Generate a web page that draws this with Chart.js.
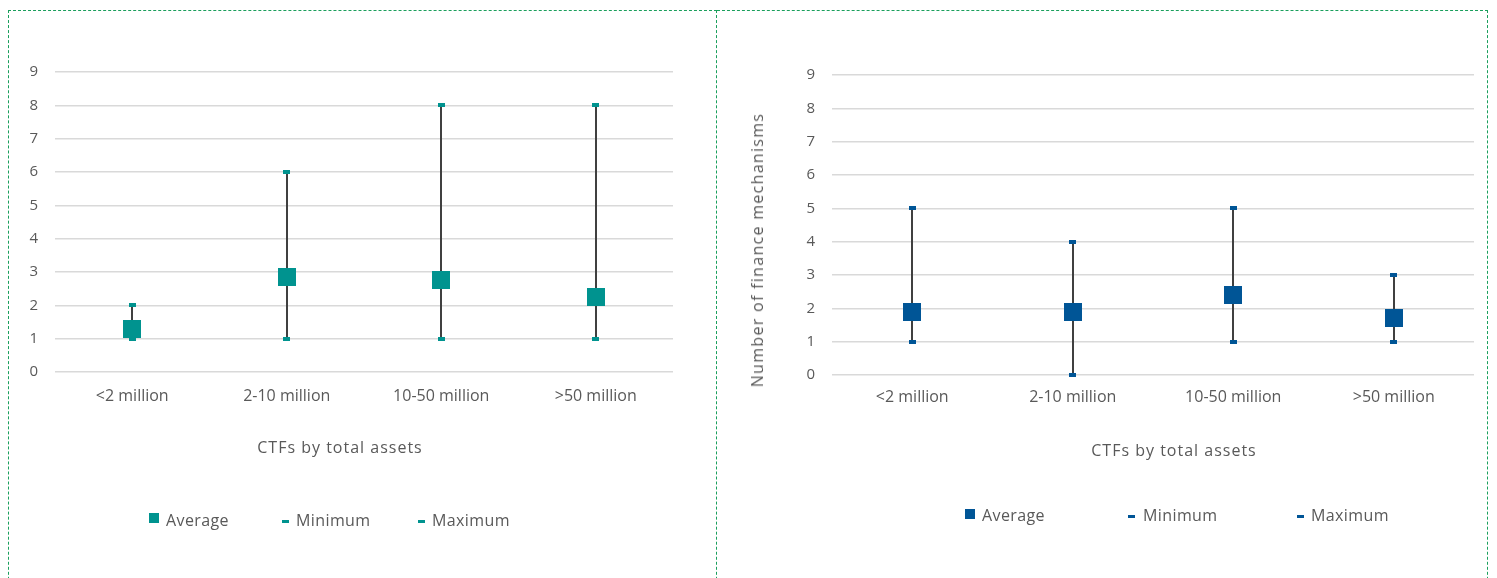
<!DOCTYPE html>
<html>
<head>
<meta charset="utf-8">
<script src="https://cdn.jsdelivr.net/npm/chart.js@4.4.1/dist/chart.umd.min.js"></script>
<style>
  html, body { margin: 0; padding: 0; background: #fff; overflow: hidden; }
  #wrap { position: relative; width: 1497px; height: 578px; font-family: 'Open Sans', sans-serif; color: #595959; }
  .panel { position: absolute; top: 10px; height: 620px; box-sizing: border-box; border: 1px dashed #1a9f5c; }
  #p1 { left: 8px; width: 709px; }
  #p2 { left: 717px; width: 771px; border-left: none; }
  canvas { position: absolute; top: 10px; }
  #c1 { left: 8px; }
  #c2 { left: 716px; }
  .leg { position: absolute; font-size: 16px; line-height: 18px; letter-spacing: 0.4px; white-space: nowrap; }
  .mk { position: absolute; }
  .tit { position: absolute; font-size: 16px; line-height: 20px; letter-spacing: 1px; white-space: nowrap; transform: translate(-50%, -50%); }
  .tit.rot { transform: translate(-50%, -50%) rotate(-90deg); letter-spacing: 1.3px; }
</style>
</head>
<body>
<div id="wrap">
  <div class="panel" id="p1"></div>
  <div class="panel" id="p2"></div>
  <canvas id="c1" width="708" height="568"></canvas>
  <canvas id="c2" width="771" height="568"></canvas>
  <div id="legend1"></div>
  <div id="legend2"></div>
  <div class="tit" id="tx1" style="left:340px;top:447px;"></div>
  <div class="tit" id="tx2" style="left:1174px;top:450px;"></div>
  <div class="tit rot" id="ty2" style="left:757px;top:250px;"></div>
</div>
<script>
// datos
const categorias = ['<2 million', '2-10 million', '10-50 million', '>50 million'];
const serieNombres = ['Average', 'Minimum', 'Maximum'];

const izqPromedio = [1.3, 2.85, 2.75, 2.25];
const izqMinimo = [1, 1, 1, 1];
const izqMaximo = [2, 6, 8, 8];

const derPromedio = [1.9, 1.9, 2.4, 1.7];
const derMinimo = [1, 0, 1, 1];
const derMaximo = [5, 4, 5, 3];

const ejeYMin = 0;
const ejeYMax = 9;
const ejeYPaso = 1;

const tituloX = 'CTFs by total assets';
const tituloY = 'Number of finance mechanisms';

const colorTexto = '#595959';
const colorGrilla = '#d9d9d9';
const colorBarra = '#404040';
const fuente = "'Open Sans', sans-serif";

const marcador = (w, h, color) => {
  const c = document.createElement('canvas');
  c.width = w; c.height = h;
  const g = c.getContext('2d');
  g.fillStyle = color;
  g.fillRect(0, 0, w, h);
  return c;
};

// linea vertical entre minimo y maximo
const barrasError = {
  id: 'barrasError',
  beforeDatasetsDraw(chart, args, opts) {
    const ctx = chart.ctx;
    const minimos = chart.getDatasetMeta(1).data;
    const maximos = chart.getDatasetMeta(2).data;
    ctx.save();
    ctx.strokeStyle = opts.color || colorBarra;
    ctx.lineWidth = opts.width || 2;
    minimos.forEach((p, i) => {
      const q = maximos[i];
      if (!q) return;
      ctx.beginPath();
      ctx.moveTo(Math.round(p.x), p.y);
      ctx.lineTo(Math.round(q.x), q.y);
      ctx.stroke();
    });
    ctx.restore();
  }
};

const crearGrafico = (canvas, cfg) => {
  const colorSerie = cfg.color;
  return new Chart(canvas, {
    type: 'line',
    data: {
      labels: categorias,
      datasets: [
        { label: serieNombres[0], data: cfg.promedio, showLine: false, pointStyle: marcador(18, 18, colorSerie), pointRadius: 9, pointHoverRadius: 9, clip: false },
        { label: serieNombres[1], data: cfg.minimo, showLine: false, pointStyle: marcador(7, 4, colorSerie), pointRadius: 4, pointHoverRadius: 4, clip: false },
        { label: serieNombres[2], data: cfg.maximo, showLine: false, pointStyle: marcador(7, 4, colorSerie), pointRadius: 4, pointHoverRadius: 4, clip: false }
      ]
    },
    options: {
      responsive: false,
      animation: false,
      layout: { padding: cfg.padding },
      plugins: {
        legend: { display: false },
        tooltip: { enabled: false },
        barrasError: { color: colorBarra, width: 2 }
      },
      scales: {
        x: {
          type: 'category',
          offset: true,
          grid: { display: false, drawTicks: false },
          border: { display: false },
          ticks: { color: colorTexto, font: { family: fuente, size: 16 }, padding: cfg.padTicksX },
          afterFit: (s) => { s.height = 90; }
        },
        y: {
          min: ejeYMin,
          max: ejeYMax,
          ticks: { stepSize: ejeYPaso, color: colorTexto, font: { family: fuente, size: 15 }, padding: 17 },
          grid: { color: colorGrilla, lineWidth: 1.5, drawTicks: false },
          border: { display: false },
          afterFit: (s) => { s.width = cfg.anchoY; }
        }
      }
    },
    plugins: [barrasError]
  });
};

const armarLeyenda = (contenedor, color, posiciones) => {
  const el = document.getElementById(contenedor);
  serieNombres.forEach((nombre, i) => {
    const p = posiciones[i];
    const m = document.createElement('div');
    m.className = 'mk';
    m.style.cssText = `left:${p.mx}px;top:${p.my}px;width:${p.mw}px;height:${p.mh}px;background:${color};`;
    el.appendChild(m);
    const t = document.createElement('div');
    t.className = 'leg';
    t.style.left = p.tx + 'px';
    t.style.top = p.ty + 'px';
    t.textContent = nombre;
    el.appendChild(t);
  });
};

crearGrafico(document.getElementById('c1'), {
  color: '#00938f',
  promedio: izqPromedio, minimo: izqMinimo, maximo: izqMaximo,
  padding: { top: 62, right: 43, bottom: 116, left: 0 },
  anchoY: 47,
  padTicksX: 15
});

crearGrafico(document.getElementById('c2'), {
  color: '#005596',
  promedio: derPromedio, minimo: derMinimo, maximo: derMaximo,
  padding: { top: 65, right: 13, bottom: 113, left: 0 },
  anchoY: 116,
  padTicksX: 13
});

document.getElementById('tx1').textContent = tituloX;
document.getElementById('tx2').textContent = tituloX;
document.getElementById('ty2').textContent = tituloY;

armarLeyenda('legend1', '#00938f', [
  { mx: 149, my: 513, mw: 10, mh: 10, tx: 166, ty: 511 },
  { mx: 282, my: 520, mw: 7, mh: 3, tx: 296, ty: 511 },
  { mx: 418, my: 520, mw: 7, mh: 3, tx: 432, ty: 511 }
]);

armarLeyenda('legend2', '#005596', [
  { mx: 965, my: 509, mw: 10, mh: 10, tx: 982, ty: 506 },
  { mx: 1128, my: 515, mw: 7, mh: 3, tx: 1143, ty: 506 },
  { mx: 1297, my: 515, mw: 7, mh: 3, tx: 1311, ty: 506 }
]);
</script>
</body>
</html>
